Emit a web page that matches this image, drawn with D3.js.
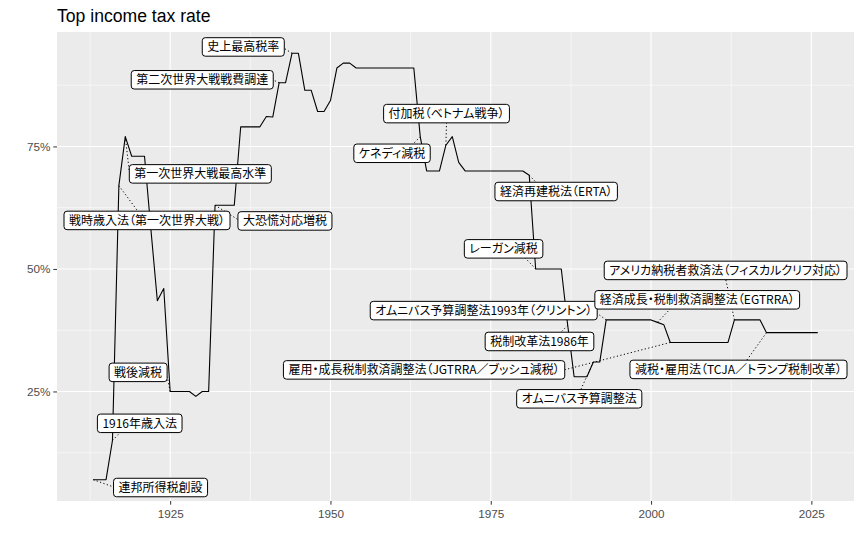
<!DOCTYPE html>
<html>
<head>
<meta charset="utf-8">
<script src="https://cdn.jsdelivr.net/npm/d3@7"></script>
<style>
body { margin: 0; background: #fff; }
.axis text { font-family: "Liberation Sans", Arial, sans-serif; font-size: 11.7px; fill: #4d4d4d; }
.axis line { stroke: #333; }
.lab text { font-family: "Noto Sans CJK JP", sans-serif; font-size: 12px; font-feature-settings: "palt"; fill: #000; }
</style>
</head>
<body>
<svg id="chart" width="862" height="546"></svg>
<script>
// top marginal income tax rate (%)
var years = [1913, 1914, 1915, 1916, 1917, 1918, 1919, 1920, 1921, 1922,
    1923, 1924, 1925, 1926, 1927, 1928, 1929, 1930, 1931, 1932,
    1933, 1934, 1935, 1936, 1937, 1938, 1939, 1940, 1941, 1942,
    1943, 1944, 1945, 1946, 1947, 1948, 1949, 1950, 1951, 1952,
    1953, 1954, 1955, 1956, 1957, 1958, 1959, 1960, 1961, 1962,
    1963, 1964, 1965, 1966, 1967, 1968, 1969, 1970, 1971, 1972,
    1973, 1974, 1975, 1976, 1977, 1978, 1979, 1980, 1981, 1982,
    1983, 1984, 1985, 1986, 1987, 1988, 1989, 1990, 1991, 1992,
    1993, 1994, 1995, 1996, 1997, 1998, 1999, 2000, 2001, 2002,
    2003, 2004, 2005, 2006, 2007, 2008, 2009, 2010, 2011, 2012,
    2013, 2014, 2015, 2016, 2017, 2018, 2019, 2020, 2021, 2022,
    2023, 2024, 2025, 2026];
var rates = [7, 7, 7, 15, 67, 77, 73, 73, 73, 58,
    43.5, 46, 25, 25, 25, 25, 24, 25, 25, 63,
    63, 63, 63, 79, 79, 79, 79, 81.1, 81, 88,
    88, 94, 94, 86.45, 86.45, 82.13, 82.13, 84.36, 91, 92,
    92, 91, 91, 91, 91, 91, 91, 91, 91, 91,
    91, 77, 70, 70, 70, 75.25, 77, 71.75, 70, 70,
    70, 70, 70, 70, 70, 70, 70, 70, 69.125, 50,
    50, 50, 50, 50, 38.5, 28, 28, 28, 31, 31,
    39.6, 39.6, 39.6, 39.6, 39.6, 39.6, 39.6, 39.6, 39.1, 38.6,
    35, 35, 35, 35, 35, 35, 35, 35, 35, 35,
    39.6, 39.6, 39.6, 39.6, 39.6, 37, 37, 37, 37, 37,
    37, 37, 37, 37];

var eventYears = [1913, 1916, 1917, 1918, 1925, 1932, 1942, 1944, 1964, 1968,
    1981, 1982, 1987, 1991, 1993, 2001, 2003, 2013, 2018];
var eventLabels = ["連邦所得税創設", "1916年歳入法", "戦時歳入法（第一次世界大戦）",
    "第一次世界大戦最高水準", "戦後減税", "大恐慌対応増税", "第二次世界大戦戦費調達",
    "史上最高税率", "ケネディ減税", "付加税（ベトナム戦争）", "経済再建税法（ERTA）",
    "レーガン減税", "税制改革法1986年", "オムニバス予算調整法",
    "オムニバス予算調整法1993年（クリントン）", "経済成長・税制救済調整法（EGTRRA）",
    "雇用・成長税制救済調整法（JGTRRA／ブッシュ減税）",
    "アメリカ納税者救済法（フィスカルクリフ対応）", "減税・雇用法（TCJA／トランプ税制改革）"];

// where the repelled labels ended up (label centre, data units)
var labelYear = [1923.5, 1920.25, 1921.1, 1929.7, 1920.0, 1942.9, 1930.0, 1936.4, 1959.6, 1968.1,
    1985.2, 1977.0, 1982.6, 1988.8, 1973.9, 2007.2, 1964.6, 2013.9, 2014.6];
var labelRate = [5.4, 18.5, 59.9, 69.4, 28.9, 59.8, 88.6, 95.3, 73.6, 81.7,
    65.8, 54.1, 35.2, 23.5, 41.5, 43.7, 29.4, 49.7, 29.5];

var xTicks = [1925, 1950, 1975, 2000, 2025];
var yTicks = [25, 50, 75];

var svg = d3.select("#chart");
var panelL = 57, panelR = 854, panelT = 32, panelB = 501;

function expand(e) {
    var d = (e[1] - e[0]) * 0.05;
    return [e[0] - d, e[1] + d];
}
var x = d3.scaleLinear().domain(expand(d3.extent(years))).range([panelL, panelR]);
var y = d3.scaleLinear().domain(expand(d3.extent(rates))).range([panelB, panelT]);

// panel
svg.append("rect")
    .attr("x", panelL).attr("y", panelT)
    .attr("width", panelR - panelL).attr("height", panelB - panelT)
    .attr("fill", "#ebebeb");

var xMinor = [], yMinor = [];
for (var i = 0; i < xTicks.length; i++) xMinor.push(xTicks[i] - 12.5);
for (var j = 0; j < yTicks.length; j++) yMinor.push(yTicks[j] - 12.5);
yMinor.push(yTicks[yTicks.length - 1] + 12.5);

var grid = svg.append("g").attr("stroke", "#fff");
grid.selectAll("line.xmin").data(xMinor.filter(function (d) { return x(d) > panelL; }))
    .enter().append("line").attr("class", "xmin")
    .attr("x1", x).attr("x2", x).attr("y1", panelT).attr("y2", panelB)
    .attr("stroke-width", 0.55);
grid.selectAll("line.ymin").data(yMinor.filter(function (d) { return y(d) > panelT; }))
    .enter().append("line").attr("class", "ymin")
    .attr("y1", y).attr("y2", y).attr("x1", panelL).attr("x2", panelR)
    .attr("stroke-width", 0.55);
grid.selectAll("line.xmaj").data(xTicks)
    .enter().append("line").attr("class", "xmaj")
    .attr("x1", x).attr("x2", x).attr("y1", panelT).attr("y2", panelB)
    .attr("stroke-width", 1.1);
grid.selectAll("line.ymaj").data(yTicks)
    .enter().append("line").attr("class", "ymaj")
    .attr("y1", y).attr("y2", y).attr("x1", panelL).attr("x2", panelR)
    .attr("stroke-width", 1.1);

// axes
var xAxis = svg.append("g").attr("class", "axis")
    .attr("transform", "translate(0," + panelB + ")")
    .call(d3.axisBottom(x).tickValues(xTicks).tickSize(3.7).tickPadding(5)
        .tickFormat(d3.format("d")));
var yAxis = svg.append("g").attr("class", "axis")
    .attr("transform", "translate(" + panelL + ",0)")
    .call(d3.axisLeft(y).tickValues(yTicks).tickSize(3.7).tickPadding(3)
        .tickFormat(function (d) { return d + "%"; }));
xAxis.select(".domain").remove();
yAxis.select(".domain").remove();

// title
svg.append("text")
    .attr("x", panelL).attr("y", 22)
    .attr("font-family", "Liberation Sans, Arial, sans-serif")
    .attr("font-size", 17.6)
    .attr("fill", "#000")
    .text("Top income tax rate");

// the rate line
var series = years.map(function (yr, k) { return {year: yr, rate: rates[k]}; });
var line = d3.line()
    .x(function (d) { return x(d.year); })
    .y(function (d) { return y(d.rate); });
svg.append("path")
    .datum(series)
    .attr("d", line)
    .attr("fill", "none")
    .attr("stroke", "#000")
    .attr("stroke-width", 1.1)
    .attr("stroke-linejoin", "round");

// labels, ggrepel style
function rateAt(yr) {
    return rates[years.indexOf(yr)];
}

// nearest edge point, nudged towards the edge middle (as ggrepel does)
function connect(px, py, b) {
    var ox, oy, hx = false, vy = false;
    if (px >= b[0] && px <= b[2]) ox = px;
    else { ox = px > b[2] ? b[2] : b[0]; hx = true; }
    if (py >= b[1] && py <= b[3]) oy = py;
    else { oy = py > b[3] ? b[3] : b[1]; vy = true; }
    var mx = (b[0] + b[2]) / 2, my = (b[1] + b[3]) / 2;
    var d = Math.hypot(px - ox, py - oy);
    if (vy && !hx) {
        var a = Math.hypot(px - mx, py - oy);
        ox = ox + (mx - ox) * d / a;
    } else if (hx && !vy) {
        var a2 = Math.hypot(px - ox, py - my);
        oy = oy + (my - oy) * d / a2;
    } else if (hx && vy) {
        var a1 = Math.hypot(px - mx, py - oy);
        var a3 = Math.hypot(px - ox, py - my);
        if (a1 < a3) ox = ox + (mx - ox) * d / a1;
        else oy = oy + (my - oy) * d / a3;
    }
    return [ox, oy];
}

var labels = eventYears.map(function (yr, k) {
    return {year: yr, rate: rateAt(yr), text: eventLabels[k], lx: labelYear[k], ly: labelRate[k]};
});

var segLayer = svg.append("g");
var labLayer = svg.append("g").attr("class", "lab");
var padX = 5, boxH = 18.5, edge = 7;

labels.forEach(function (d) {
    var cx = x(d.lx), cy = y(d.ly);
    var g = labLayer.append("g");
    var rect = g.append("rect");
    var t = g.append("text")
        .attr("text-anchor", "middle")
        .attr("dy", "0.36em")
        .text(d.text);
    var w = t.node().getComputedTextLength() + padX * 2;
    // keep the box inside the panel, like ggrepel's xlim
    if (cx + w / 2 > panelR - edge) cx = panelR - edge - w / 2;
    if (cx - w / 2 < panelL + edge) cx = panelL + edge + w / 2;
    t.attr("x", cx).attr("y", cy);
    var b = [cx - w / 2, cy - boxH / 2, cx + w / 2, cy + boxH / 2];
    rect.attr("x", b[0]).attr("y", b[1])
        .attr("width", w).attr("height", boxH)
        .attr("rx", 3).attr("ry", 3)
        .attr("fill", "#fff").attr("stroke", "#000").attr("stroke-width", 1);
    var px = x(d.year), py = y(d.rate);
    var c = connect(px, py, b);
    segLayer.append("line")
        .attr("x1", px).attr("y1", py)
        .attr("x2", c[0]).attr("y2", c[1])
        .attr("stroke", "#000")
        .attr("stroke-width", 1)
        .attr("stroke-dasharray", "1.2,2.4");
});
</script>
</body>
</html>
